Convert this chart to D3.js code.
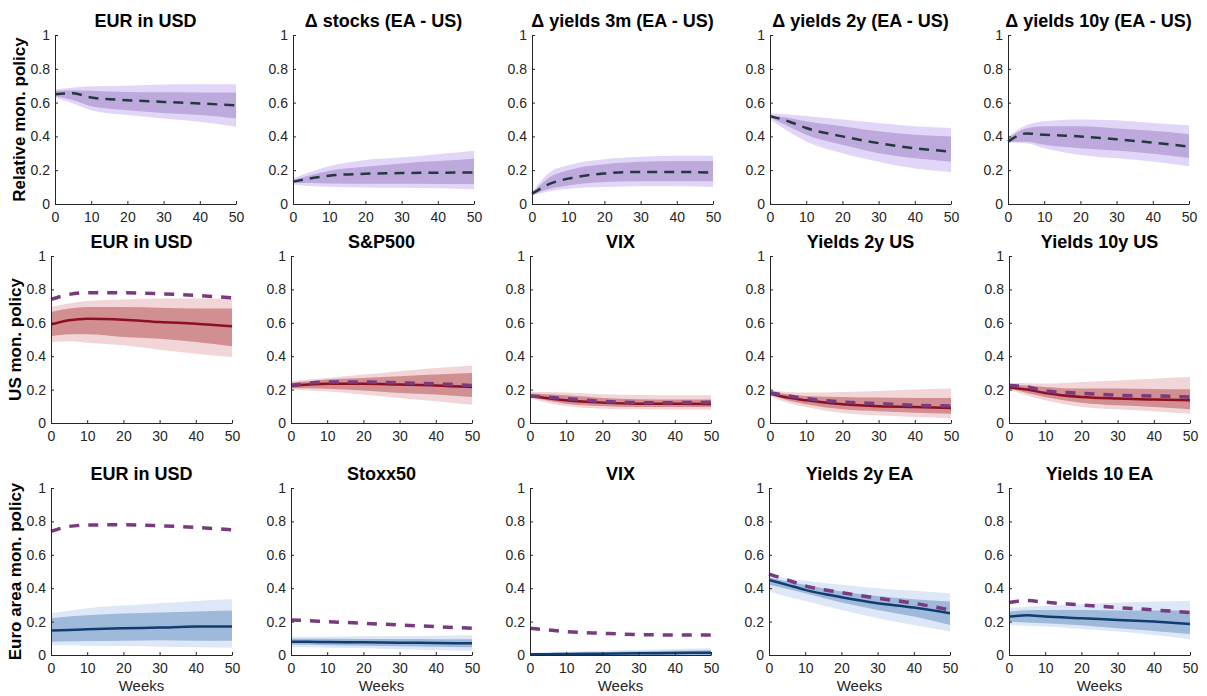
<!DOCTYPE html>
<meta charset="utf-8">
<script src="https://d3js.org/d3.v7.min.js"></script>
<style>
  body { margin: 0; background: #fff; }
  text { font-family: "Liberation Sans", Arial, sans-serif; }
</style>
<div id="chart"></div>
<script>

var weeks = [0, 5, 10, 20, 30, 40, 50];

// ---- row 1: relative monetary policy (dashed median + bands)
var relTitles = ["EUR in USD", "\u0394 stocks (EA - US)", "\u0394 yields 3m (EA - US)", "\u0394 yields 2y (EA - US)", "\u0394 yields 10y (EA - US)"];
var relDash = [
  [0.65, 0.655, 0.63, 0.614, 0.604, 0.595, 0.583],
  [0.132, 0.152, 0.167, 0.179, 0.183, 0.185, 0.187],
  [0.06, 0.12, 0.15, 0.18, 0.19, 0.19, 0.185],
  [0.52, 0.49, 0.45, 0.40, 0.36, 0.33, 0.31],
  [0.369, 0.417, 0.41, 0.40, 0.383, 0.363, 0.34]
];
var relHi95 = [
  [0.677, 0.69, 0.697, 0.70, 0.707, 0.709, 0.709],
  [0.152, 0.191, 0.224, 0.26, 0.276, 0.295, 0.315],
  [0.07, 0.19, 0.23, 0.265, 0.28, 0.285, 0.285],
  [0.535, 0.53, 0.52, 0.50, 0.48, 0.46, 0.45],
  [0.398, 0.466, 0.49, 0.50, 0.495, 0.48, 0.466]
];
var relHi68 = [
  [0.67, 0.673, 0.67, 0.663, 0.661, 0.66, 0.66],
  [0.142, 0.171, 0.197, 0.22, 0.24, 0.254, 0.268],
  [0.065, 0.16, 0.2, 0.235, 0.25, 0.255, 0.255],
  [0.525, 0.51, 0.49, 0.46, 0.43, 0.41, 0.40],
  [0.388, 0.447, 0.46, 0.46, 0.447, 0.433, 0.413]
];
var relLo68 = [
  [0.638, 0.614, 0.579, 0.555, 0.539, 0.526, 0.506],
  [0.126, 0.124, 0.122, 0.12, 0.12, 0.119, 0.118],
  [0.055, 0.09, 0.11, 0.13, 0.135, 0.135, 0.135],
  [0.51, 0.46, 0.41, 0.35, 0.30, 0.27, 0.25],
  [0.369, 0.369, 0.35, 0.33, 0.316, 0.297, 0.272]
];
var relLo95 = [
  [0.63, 0.594, 0.555, 0.526, 0.506, 0.486, 0.457],
  [0.116, 0.106, 0.102, 0.098, 0.096, 0.093, 0.087],
  [0.05, 0.075, 0.09, 0.1, 0.105, 0.105, 0.1],
  [0.50, 0.43, 0.37, 0.30, 0.25, 0.21, 0.19],
  [0.363, 0.36, 0.33, 0.29, 0.27, 0.252, 0.223]
];

// ---- row 2: US monetary policy (solid median, dashed = relative)
var usTitles = ["EUR in USD", "S&P500", "VIX", "Yields 2y US", "Yields 10y US"];
var usLine = [
  [0.59, 0.615, 0.625, 0.619, 0.605, 0.595, 0.579],
  [0.22, 0.23, 0.235, 0.235, 0.23, 0.225, 0.215],
  [0.162, 0.148, 0.136, 0.122, 0.116, 0.116, 0.114],
  [0.176, 0.152, 0.136, 0.112, 0.1, 0.096, 0.09],
  [0.212, 0.2, 0.18, 0.156, 0.146, 0.14, 0.136]
];
var usDash = [
  [0.74, 0.77, 0.78, 0.78, 0.774, 0.764, 0.75],
  [0.225, 0.238, 0.245, 0.245, 0.24, 0.235, 0.225],
  [0.162, 0.154, 0.146, 0.13, 0.122, 0.122, 0.124],
  [0.182, 0.162, 0.146, 0.126, 0.116, 0.106, 0.102],
  [0.224, 0.216, 0.192, 0.178, 0.166, 0.162, 0.156]
];
var usHi95 = [
  [0.695, 0.715, 0.73, 0.74, 0.745, 0.745, 0.745],
  [0.25, 0.26, 0.27, 0.29, 0.31, 0.33, 0.345],
  [0.186, 0.185, 0.182, 0.172, 0.168, 0.166, 0.166],
  [0.196, 0.186, 0.182, 0.186, 0.192, 0.2, 0.206],
  [0.24, 0.238, 0.236, 0.246, 0.255, 0.265, 0.275]
];
var usHi68 = [
  [0.665, 0.685, 0.695, 0.695, 0.69, 0.685, 0.685],
  [0.24, 0.25, 0.26, 0.27, 0.28, 0.29, 0.30],
  [0.176, 0.172, 0.166, 0.15, 0.142, 0.14, 0.14],
  [0.186, 0.172, 0.162, 0.156, 0.152, 0.15, 0.15],
  [0.23, 0.224, 0.216, 0.206, 0.206, 0.204, 0.202]
];
var usLo68 = [
  [0.519, 0.531, 0.531, 0.515, 0.505, 0.485, 0.459],
  [0.21, 0.208, 0.205, 0.195, 0.18, 0.17, 0.155],
  [0.156, 0.133, 0.116, 0.102, 0.096, 0.096, 0.096],
  [0.17, 0.135, 0.112, 0.082, 0.07, 0.062, 0.056],
  [0.206, 0.18, 0.156, 0.122, 0.106, 0.096, 0.082]
];
var usLo95 = [
  [0.485, 0.489, 0.481, 0.465, 0.439, 0.415, 0.395],
  [0.2, 0.195, 0.19, 0.17, 0.15, 0.13, 0.11],
  [0.146, 0.12, 0.102, 0.086, 0.082, 0.08, 0.08],
  [0.162, 0.12, 0.096, 0.06, 0.046, 0.036, 0.03],
  [0.2, 0.165, 0.136, 0.096, 0.082, 0.07, 0.056]
];

// ---- row 3: euro area monetary policy
var eaTitles = ["EUR in USD", "Stoxx50", "VIX", "Yields 2y EA", "Yields 10 EA"];
var eaLine = [
  [0.146, 0.15, 0.154, 0.16, 0.164, 0.17, 0.17],
  [0.08, 0.079, 0.078, 0.076, 0.074, 0.072, 0.07],
  [0.004, 0.005, 0.006, 0.008, 0.01, 0.012, 0.014],
  [0.45, 0.42, 0.39, 0.346, 0.31, 0.284, 0.25],
  [0.23, 0.238, 0.23, 0.22, 0.21, 0.2, 0.186]
];
var eaDash = [
  [0.74, 0.77, 0.778, 0.78, 0.774, 0.764, 0.75],
  [0.21, 0.205, 0.2, 0.19, 0.18, 0.17, 0.16],
  [0.16, 0.15, 0.14, 0.13, 0.122, 0.12, 0.12],
  [0.484, 0.45, 0.414, 0.374, 0.34, 0.31, 0.27],
  [0.314, 0.326, 0.316, 0.30, 0.284, 0.27, 0.254]
];
var eaHi95 = [
  [0.25, 0.265, 0.28, 0.296, 0.31, 0.324, 0.334],
  [0.11, 0.11, 0.11, 0.112, 0.114, 0.116, 0.118],
  [0.012, 0.016, 0.02, 0.026, 0.031, 0.036, 0.04],
  [0.48, 0.46, 0.444, 0.42, 0.40, 0.384, 0.37],
  [0.28, 0.29, 0.294, 0.304, 0.314, 0.32, 0.324]
];
var eaHi68 = [
  [0.22, 0.23, 0.238, 0.248, 0.254, 0.26, 0.266],
  [0.097, 0.097, 0.097, 0.096, 0.096, 0.095, 0.094],
  [0.008, 0.01, 0.012, 0.017, 0.021, 0.025, 0.028],
  [0.466, 0.44, 0.42, 0.38, 0.354, 0.334, 0.32],
  [0.26, 0.268, 0.27, 0.27, 0.266, 0.266, 0.264]
];
var eaLo68 = [
  [0.08, 0.082, 0.084, 0.086, 0.088, 0.086, 0.086],
  [0.063, 0.061, 0.059, 0.055, 0.052, 0.049, 0.046],
  [0, 0, 0, 0, 0, 0, 0],
  [0.42, 0.395, 0.37, 0.314, 0.27, 0.23, 0.18],
  [0.2, 0.195, 0.19, 0.178, 0.16, 0.144, 0.126]
];
var eaLo95 = [
  [0.06, 0.058, 0.056, 0.054, 0.05, 0.046, 0.044],
  [0.05, 0.047, 0.044, 0.04, 0.035, 0.03, 0.025],
  [0, 0, 0, 0, 0, 0, 0],
  [0.38, 0.35, 0.324, 0.27, 0.22, 0.18, 0.14],
  [0.18, 0.175, 0.17, 0.156, 0.14, 0.12, 0.094]
];

var rowLabels = ["Relative mon. policy", "US mon. policy", "Euro area mon. policy"];
var xTicks = [0, 10, 20, 30, 40, 50];
var yTicks = [0, 0.2, 0.4, 0.6, 0.8, 1];

// layout of the axes boxes (MATLAB subplot positions)
var rows = [
  { top: 35, bottom: 204, lefts: [55, 293, 532, 770, 1008], width: 181,
    titles: relTitles, line: null, dash: relDash, hi95: relHi95, hi68: relHi68, lo68: relLo68, lo95: relLo95,
    light: "#e2d6f8", dark: "#bea9dc", lineColor: null, dashColor: "#24393f", dashWidth: 2.5, dashArray: "10,7" },
  { top: 256, bottom: 423, lefts: [51, 291, 530, 770, 1009], width: 181,
    titles: usTitles, line: usLine, dash: usDash, hi95: usHi95, hi68: usHi68, lo68: usLo68, lo95: usLo95,
    light: "#f1d5d7", dark: "#d18f91", lineColor: "#8c0f22", dashColor: "#7a3a80", dashWidth: 3.5, dashArray: "10,9" },
  { top: 488, bottom: 655, lefts: [51, 291, 530, 769, 1009], width: 181,
    titles: eaTitles, line: eaLine, dash: eaDash, hi95: eaHi95, hi68: eaHi68, lo68: eaLo68, lo95: eaLo95,
    light: "#dde7f7", dark: "#9fb9da", lineColor: "#103c70", dashColor: "#7a3a80", dashWidth: 3.5, dashArray: "10,9" }
];

var svg = d3.select("#chart").append("svg")
  .attr("width", 1207)
  .attr("height", 696);

var axisColor = "#262626";

rows.forEach(function(row, r) {
  var y = d3.scaleLinear().domain([0, 1]).range([row.bottom, row.top]);

  // row label on the left
  svg.append("text")
    .attr("transform", "translate(" + (row.lefts[0] - 30) + "," + ((row.top + row.bottom) / 2) + ") rotate(-90)")
    .attr("text-anchor", "middle")
    .attr("font-size", 17)
    .attr("font-weight", "bold")
    .attr("fill", "#000")
    .text(rowLabels[r]);

  row.lefts.forEach(function(left, c) {
    var x = d3.scaleLinear().domain([0, 50]).range([left, left + row.width]);
    var g = svg.append("g");

    var clipId = "clip" + r + "_" + c;
    svg.append("clipPath").attr("id", clipId)
      .append("rect")
      .attr("x", left).attr("y", row.top)
      .attr("width", row.width).attr("height", row.bottom - row.top);

    var plot = g.append("g").attr("clip-path", "url(#" + clipId + ")");

    var band = function(hi, lo) {
      return d3.area()
        .x(function(d, i) { return x(weeks[i]); })
        .y0(function(d, i) { return y(lo[i]); })
        .y1(function(d, i) { return y(hi[i]); })
        .curve(d3.curveMonotoneX)(weeks);
    };
    var line = d3.line()
      .x(function(d, i) { return x(weeks[i]); })
      .y(function(d) { return y(d); })
      .curve(d3.curveMonotoneX);

    plot.append("path").attr("d", band(row.hi95[c], row.lo95[c])).attr("fill", row.light);
    plot.append("path").attr("d", band(row.hi68[c], row.lo68[c])).attr("fill", row.dark);

    if (row.line) {
      plot.append("path")
        .attr("d", line(row.line[c]))
        .attr("fill", "none")
        .attr("stroke", row.lineColor)
        .attr("stroke-width", 2.5);
    }
    g.append("path")
      .attr("d", line(row.dash[c]))
      .attr("fill", "none")
      .attr("stroke", row.dashColor)
      .attr("stroke-width", row.dashWidth)
      .attr("stroke-dasharray", row.dashArray);

    // axes, ticks pointing inwards like matlab
    var xAxis = g.append("g")
      .attr("transform", "translate(0," + row.bottom + ")")
      .call(d3.axisBottom(x).tickValues(xTicks).tickSizeInner(-3).tickSizeOuter(0).tickPadding(5));
    var yAxis = g.append("g")
      .attr("transform", "translate(" + left + ",0)")
      .call(d3.axisLeft(y).tickValues(yTicks).tickSizeInner(-3).tickSizeOuter(0).tickPadding(5)
        .tickFormat(function(d) { return d === 0 || d === 1 ? d : d3.format(".1f")(d); }));

    [xAxis, yAxis].forEach(function(a) {
      a.select(".domain").attr("stroke", axisColor).attr("stroke-width", 1);
      a.selectAll(".tick line").attr("stroke", axisColor);
      a.selectAll(".tick text")
        .attr("fill", axisColor)
        .attr("font-size", 14)
        .attr("font-family", "'Liberation Sans', Arial, sans-serif");
    });
    xAxis.selectAll(".tick text").attr("dy", "0.95em");

    // panel title
    g.append("text")
      .attr("x", left + row.width / 2)
      .attr("y", row.top - 8)
      .attr("text-anchor", "middle")
      .attr("font-size", 18)
      .attr("font-weight", "bold")
      .attr("fill", "#000")
      .text(row.titles[c]);

    if (r === 2) {
      g.append("text")
        .attr("x", left + row.width / 2)
        .attr("y", 691)
        .attr("text-anchor", "middle")
        .attr("font-size", 15)
        .attr("fill", axisColor)
        .text("Weeks");
    }
  });
});

</script>
